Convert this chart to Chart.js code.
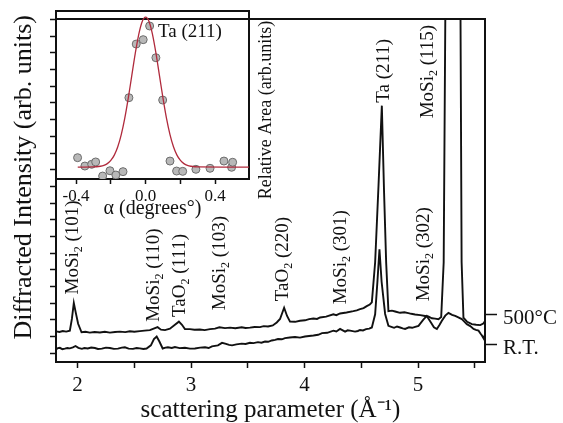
<!DOCTYPE html>
<html>
<head>
<meta charset="utf-8">
<script src="https://cdn.jsdelivr.net/npm/chart.js@4"></script>
<style>
  html, body { margin: 0; padding: 0; background: #fff; }
  #wrap { position: relative; width: 563px; height: 423px; }
  #main, #inset { position: absolute; left: 0; top: 0; }
</style>
</head>
<body>
<div id="wrap">
  <canvas id="main" width="563" height="423"></canvas>
  <canvas id="inset" width="300" height="225"></canvas>
</div>
<script>
// 500°C scan: scattering parameter (1/Å) and intensity (arb. units)
const hotQ = [1.809, 1.84, 1.87, 1.90, 1.932, 1.950, 1.967, 1.985, 2.005, 2.035, 2.07, 2.108, 2.15, 2.197, 2.24, 2.285,
  2.33, 2.373, 2.42, 2.461, 2.50, 2.549, 2.59, 2.637, 2.682, 2.705, 2.735, 2.77, 2.814, 2.858, 2.893, 2.920, 2.946,
  2.99, 3.03, 3.078, 3.12, 3.167, 3.211, 3.25, 3.299, 3.344, 3.39, 3.446, 3.48, 3.519, 3.56, 3.607, 3.64, 3.678,
  3.72, 3.755, 3.784, 3.820, 3.846, 3.872, 3.917, 3.96, 4.004, 4.04, 4.078, 4.11, 4.137, 4.19, 4.254, 4.28, 4.313,
  4.37, 4.43, 4.46, 4.489, 4.52, 4.548, 4.575, 4.593, 4.622, 4.652, 4.681, 4.700, 4.719, 4.739, 4.77, 4.798, 4.842,
  4.88, 4.915, 4.94, 4.974, 5.02, 5.062, 5.09, 5.122, 5.15, 5.180, 5.204, 5.226, 5.245, 5.371, 5.384, 5.400, 5.433,
  5.474, 5.512, 5.548, 5.575, 5.592];
const hotI = [1.31, 1.27, 1.33, 1.29, 1.35, 2.05, 3.01, 2.40, 1.76, 1.25, 1.28, 1.23, 1.27, 1.24, 1.28, 1.23,
  1.27, 1.29, 1.26, 1.31, 1.28, 1.32, 1.35, 1.38, 1.50, 1.56, 1.41, 1.38, 1.47, 1.70, 1.89, 1.70, 1.45,
  1.44, 1.40, 1.42, 1.38, 1.44, 1.47, 1.55, 1.50, 1.53, 1.49, 1.55, 1.51, 1.53, 1.57, 1.56, 1.62, 1.60,
  1.66, 1.84, 2.05, 2.72, 2.23, 1.89, 1.88, 1.94, 1.97, 2.04, 2.08, 2.05, 2.14, 2.19, 2.33, 2.28, 2.38,
  2.44, 2.52, 2.57, 2.64, 2.70, 2.82, 2.92, 3.05, 5.45, 10.1, 14.84, 9.8, 5.45, 2.52, 2.55, 2.50, 2.42,
  2.45, 2.40, 2.36, 2.32, 2.28, 2.23, 2.20, 2.09, 2.07, 2.04, 2.17, 5.45, 25, 25, 5.45, 2.13, 1.88,
  1.74, 1.70, 1.68, 1.78, 1.94];

// room temperature scan
const rtQ = [1.809, 1.827, 1.844, 1.866, 1.888, 1.91, 1.932, 1.959, 1.982, 2.007, 2.038, 2.06, 2.09, 2.12, 2.153,
  2.18, 2.214, 2.25, 2.285, 2.32, 2.356, 2.39, 2.417, 2.45, 2.488, 2.52, 2.549, 2.58, 2.608, 2.646, 2.673, 2.697,
  2.721, 2.75, 2.775, 2.796, 2.83, 2.858, 2.9, 2.946, 2.99, 3.034, 3.08, 3.123, 3.155, 3.184, 3.237, 3.273, 3.308,
  3.335, 3.361, 3.40, 3.446, 3.48, 3.519, 3.55, 3.59, 3.62, 3.652, 3.68, 3.711, 3.74, 3.766, 3.80, 3.828, 3.87,
  3.916, 3.96, 4.004, 4.04, 4.078, 4.12, 4.154, 4.20, 4.254, 4.28, 4.313, 4.357, 4.38, 4.401, 4.445, 4.47, 4.489,
  4.515, 4.542, 4.57, 4.593, 4.622, 4.642, 4.660, 4.679, 4.710, 4.739, 4.765, 4.789, 4.815, 4.842, 4.865, 4.886,
  4.92, 4.948, 4.975, 5.004, 5.045, 5.077, 5.115, 5.140, 5.166, 5.19, 5.21, 5.24, 5.268, 5.30, 5.327, 5.355,
  5.386, 5.41, 5.43, 5.46, 5.489, 5.51, 5.533, 5.55, 5.563, 5.578, 5.592];
const rtI = [0.23, 0.30, 0.32, 0.24, 0.27, 0.31, 0.29, 0.35, 0.43, 0.32, 0.26, 0.31, 0.28, 0.34, 0.31,
  0.25, 0.27, 0.33, 0.31, 0.26, 0.27, 0.33, 0.35, 0.27, 0.26, 0.31, 0.29, 0.25, 0.28, 0.47, 0.85, 1.00,
  0.70, 0.28, 0.33, 0.35, 0.31, 0.37, 0.30, 0.32, 0.27, 0.28, 0.33, 0.35, 0.31, 0.41, 0.47, 0.62, 0.56,
  0.50, 0.47, 0.53, 0.57, 0.55, 0.62, 0.60, 0.66, 0.63, 0.70, 0.68, 0.76, 0.80, 0.85, 0.83, 0.90, 0.94,
  0.97, 0.93, 1.00, 1.03, 1.06, 1.10, 1.20, 1.22, 1.35, 1.30, 1.45, 1.29, 1.37, 1.35, 1.29, 1.33, 1.39,
  1.36, 1.44, 1.47, 1.54, 2.33, 4.28, 6.23, 4.28, 2.35, 1.64, 1.58, 1.52, 1.60, 1.54, 1.49, 1.45,
  1.55, 1.52, 1.58, 1.64, 1.99, 2.23, 1.82, 1.55, 1.45, 1.70, 1.94, 2.25, 2.42, 2.30, 2.23, 2.15,
  2.04, 1.88, 1.74, 1.62, 1.45, 1.40, 1.35, 1.18, 1.06, 0.88, 1.16];

// curve names shown on the right axis, at each scan's baseline
const curveNames = ['500°C', 'R.T.'];
const curveBaselines = [2.29, 0.53];

// inset: rocking curve of Ta (211)
const alpha = [-0.391, -0.349, -0.310, -0.287, -0.247, -0.205, -0.171, -0.130, -0.096, -0.054, -0.014, 0.023,
  0.059, 0.098, 0.140, 0.178, 0.213, 0.289, 0.370, 0.450, 0.494, 0.500];
const relArea = [0.062, -0.020, -0.003, 0.020, -0.118, -0.066, -0.108, -0.075, 0.650, 1.176, 1.219, 1.353,
  1.042, 0.627, 0.029, -0.069, -0.072, -0.052, -0.042, 0.029, -0.032, 0.017];
const fitAlpha = [-0.39, -0.30, -0.26, -0.24, -0.22, -0.20, -0.18, -0.16, -0.14, -0.12, -0.10, -0.08, -0.06,
  -0.04, -0.02, 0, 0.02, 0.04, 0.06, 0.08, 0.10, 0.12, 0.14, 0.16, 0.18, 0.20, 0.22, 0.24, 0.26, 0.30, 0.594];
const fitArea = [-0.03, -0.029, -0.022, -0.014, 0.004, 0.035, 0.087, 0.169, 0.288, 0.447, 0.643, 0.862, 1.080,
  1.267, 1.395, 1.44, 1.395, 1.267, 1.080, 0.862, 0.643, 0.447, 0.288, 0.169, 0.087, 0.035, 0.004, -0.014,
  -0.022, -0.029, -0.03];

// peak annotations (anchored at the lower end of the rotated text, in data units)
const peakNotes = [
  { text: 'MoSi_2 (101)', q: 1.959, at: 3.52 },
  { text: 'MoSi_2 (110)', q: 2.673, at: 1.88 },
  { text: 'TaO_2 (111)', q: 2.903, at: 2.17 },
  { text: 'MoSi_2 (103)', q: 3.255, at: 2.58 },
  { text: 'TaO_2 (220)', q: 3.811, at: 3.11 },
  { text: 'MoSi_2 (301)', q: 4.322, at: 2.93 },
  { text: 'Ta (211)', q: 4.700, at: 15.01 },
  { text: 'MoSi_2 (302)', q: 5.054, at: 3.11 },
  { text: 'MoSi_2 (115)', q: 5.089, at: 14.08 },
];

const serif = '"Liberation Serif", "Times New Roman", serif';
const ink = '#111';

// text with "_2" style subscripts, optionally rotated to read upwards
function drawRich(ctx, text, x, y, size, rotate) {
  ctx.save();
  ctx.translate(x, y);
  if (rotate) ctx.rotate(-Math.PI / 2);
  ctx.textBaseline = 'middle';
  ctx.textAlign = 'left';
  ctx.fillStyle = ink;
  let cx = 0;
  text.split(/_(\d)/).forEach((part, i) => {
    const sub = i % 2 === 1;
    ctx.font = (sub ? Math.round(size * 0.65) : size) + 'px ' + serif;
    ctx.fillText(part, cx, sub ? size * 0.32 : 0);
    cx += ctx.measureText(part).width;
  });
  ctx.restore();
}

const peakLabelPlugin = {
  id: 'peakLabels',
  afterDatasetsDraw(chart) {
    const { ctx, scales } = chart;
    peakNotes.forEach(n => {
      drawRich(ctx, n.text, scales.x.getPixelForValue(n.q), scales.y.getPixelForValue(n.at), 19, true);
    });
  }
};

const frame = { color: ink, width: 2 };
const bare = { display: false };

new Chart(document.getElementById('main'), {
  type: 'line',
  data: {
    datasets: [
      {
        label: curveNames[0],
        data: hotQ.map((q, i) => ({ x: q, y: hotI[i] })),
        borderColor: ink, borderWidth: 1.9, pointRadius: 0, tension: 0
      },
      {
        label: curveNames[1],
        data: rtQ.map((q, i) => ({ x: q, y: rtI[i] })),
        borderColor: ink, borderWidth: 1.9, pointRadius: 0, tension: 0
      }
    ]
  },
  options: {
    responsive: false,
    animation: false,
    devicePixelRatio: 1,
    layout: { padding: 0 },
    plugins: { legend: { display: false }, tooltip: { enabled: false } },
    scales: {
      x: {
        type: 'linear', position: 'bottom', min: 1.81, max: 5.59,
        afterFit: s => { s.height = 61; },
        border: frame,
        grid: { drawOnChartArea: false, tickLength: 6, tickColor: ink, tickWidth: 1.5 },
        ticks: {
          stepSize: 0.5, includeBounds: false, autoSkip: false, maxRotation: 0,
          color: ink, padding: 5, font: { family: serif, size: 21 },
          callback: v => Number.isInteger(v) ? String(v) : ''
        },
        title: {
          display: true, text: 'scattering parameter (Å⁻¹)', color: ink,
          font: { family: serif, size: 25, lineHeight: 1 }, padding: { top: 0, bottom: 0 }
        }
      },
      xTop: {
        type: 'linear', position: 'top', min: 1.81, max: 5.59,
        afterFit: s => { s.height = 11; },
        border: frame, grid: bare, ticks: bare
      },
      y: {
        type: 'linear', position: 'left', min: -0.53, max: 20.06,
        afterFit: s => { s.width = 56; },
        border: frame,
        grid: { drawOnChartArea: false, tickLength: 6, tickColor: ink, tickWidth: 1.5 },
        ticks: { display: false, stepSize: 1, includeBounds: false },
        title: {
          display: true, text: '\u2002\u2002Diffracted Intensity (arb. units)', color: ink,
          font: { family: serif, size: 26, lineHeight: 1 }, padding: { top: 11, bottom: 0 }
        }
      },
      yRight: {
        type: 'linear', position: 'right', min: -0.53, max: 20.06,
        afterFit: s => { s.width = 78; },
        afterBuildTicks: s => { s.ticks = curveBaselines.map(v => ({ value: v })); },
        border: frame,
        grid: { drawOnChartArea: false, tickLength: 12, tickColor: ink, tickWidth: 1.5 },
        ticks: {
          color: ink, padding: 6, labelOffset: 4, font: { family: serif, size: 21 },
          callback: (v, i) => curveNames[i]
        }
      }
    }
  },
  plugins: [peakLabelPlugin]
});

const insetTextPlugin = {
  id: 'insetText',
  afterDatasetsDraw(chart) {
    const { ctx, scales, chartArea } = chart;
    drawRich(ctx, 'Ta (211)', scales.x.getPixelForValue(0.071), scales.y.getPixelForValue(1.294), 19, false);
    ctx.save();
    ctx.translate(chartArea.right + 17, chartArea.bottom - 69);
    ctx.rotate(-Math.PI / 2);
    ctx.font = '18px ' + serif;
    ctx.fillStyle = ink;
    ctx.textAlign = 'center';
    ctx.textBaseline = 'middle';
    ctx.fillText('Relative Area (arb.units)', 0, 0);
    ctx.restore();
  }
};

new Chart(document.getElementById('inset'), {
  type: 'scatter',
  data: {
    datasets: [
      {
        type: 'line', label: 'fit',
        data: fitAlpha.map((a, i) => ({ x: a, y: fitArea[i] })),
        borderColor: '#b02a3c', borderWidth: 1.3, pointRadius: 0, tension: 0.3, order: 0
      },
      {
        type: 'scatter', label: 'data',
        data: alpha.map((a, i) => ({ x: a, y: relArea[i] })),
        pointRadius: 4, backgroundColor: '#b8b8b8', borderColor: '#6c6c6c', borderWidth: 1, order: 1
      }
    ]
  },
  options: {
    responsive: false,
    animation: false,
    devicePixelRatio: 1,
    layout: { padding: 0 },
    plugins: { legend: { display: false }, tooltip: { enabled: false } },
    scales: {
      x: {
        type: 'linear', position: 'bottom', min: -0.515, max: 0.594,
        afterFit: s => { s.height = 46; },
        border: frame,
        grid: { drawOnChartArea: false, tickLength: 5, tickColor: ink, tickWidth: 1.5 },
        ticks: {
          stepSize: 0.2, includeBounds: false, autoSkip: false, maxRotation: 0,
          color: ink, padding: 2, font: { family: serif, size: 17 },
          callback: v => {
            const r = Math.round(v * 10);
            return r % 4 === 0 ? (r / 10 + 0).toFixed(1) : '';
          }
        },
        title: {
          display: true, text: 'α (degrees°)', color: ink,
          font: { family: serif, size: 20, lineHeight: 1 }, padding: { top: 0, bottom: 6 }
        }
      },
      xTop: {
        type: 'linear', position: 'top', min: -0.515, max: 0.594,
        afterFit: s => { s.height = 11; },
        border: frame, grid: bare, ticks: bare
      },
      y: {
        type: 'linear', position: 'right', min: -0.147, max: 1.5,
        afterFit: s => { s.width = 51; },
        border: frame, grid: bare, ticks: bare
      },
      yLeft: {
        type: 'linear', position: 'left', min: -0.147, max: 1.5,
        afterFit: s => { s.width = 56; },
        border: frame, grid: bare, ticks: bare
      }
    }
  },
  plugins: [insetTextPlugin]
});
</script>
</body>
</html>
